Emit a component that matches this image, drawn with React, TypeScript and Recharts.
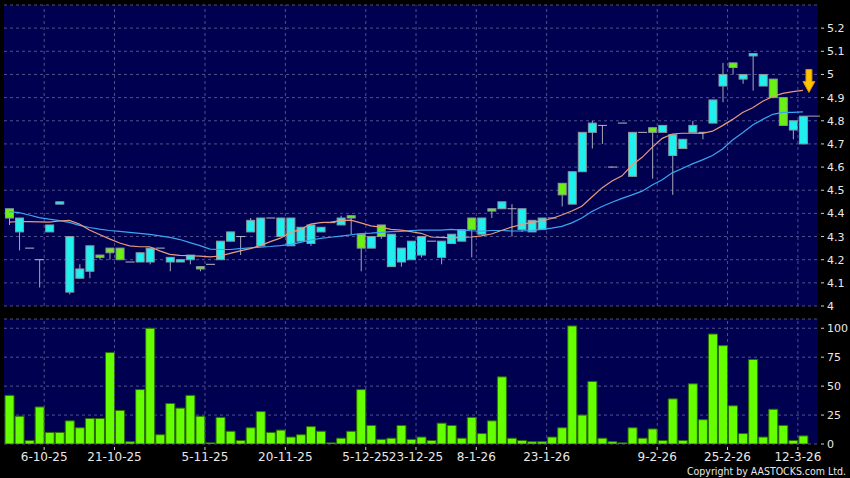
import React from "react";
import {
    ComposedChart, Bar, Line, XAxis, YAxis, CartesianGrid, ReferenceLine, ReferenceDot
} from "recharts";

// daily candles, oldest first
const open = [
    4.42, 4.32, 4.25, 4.20, 4.32, 4.44, 4.06, 4.12, 4.15, 4.22,
    4.25, 4.25, 4.19, 4.19, 4.19, 4.25, 4.19, 4.19, 4.20, 4.17,
    4.18, 4.20, 4.28, 4.30, 4.32, 4.26, 4.38, 4.30, 4.26, 4.28,
    4.27, 4.32, 4.36, 4.35, 4.39, 4.31, 4.25, 4.35, 4.17, 4.19,
    4.20, 4.22, 4.28, 4.21, 4.27, 4.28, 4.38, 4.31, 4.42, 4.42,
    4.42, 4.33, 4.32, 4.33, 4.38, 4.53, 4.44, 4.58, 4.75, 4.78,
    4.60, 4.79, 4.56, 4.75, 4.77, 4.75, 4.65, 4.68, 4.75, 4.75,
    4.79, 4.95, 5.05, 4.98, 5.08, 4.95, 4.98, 4.90, 4.76, 4.70,
];
const high = [
    4.42, 4.38, 4.25, 4.20, 4.35, 4.45, 4.30, 4.18, 4.26, 4.22,
    4.25, 4.25, 4.19, 4.23, 4.25, 4.25, 4.21, 4.20, 4.22, 4.17,
    4.18, 4.28, 4.32, 4.30, 4.38, 4.38, 4.38, 4.38, 4.38, 4.34,
    4.35, 4.34, 4.36, 4.39, 4.39, 4.31, 4.30, 4.35, 4.31, 4.25,
    4.28, 4.30, 4.28, 4.28, 4.31, 4.33, 4.38, 4.38, 4.42, 4.45,
    4.44, 4.42, 4.37, 4.38, 4.38, 4.53, 4.58, 4.75, 4.80, 4.78,
    4.60, 4.79, 4.75, 4.75, 4.77, 4.78, 4.74, 4.72, 4.80, 4.75,
    4.89, 5.05, 5.05, 5.00, 5.09, 5.00, 4.98, 4.90, 4.80, 4.82,
];
const low = [
    4.35, 4.24, 4.25, 4.08, 4.32, 4.44, 4.05, 4.12, 4.12, 4.20,
    4.20, 4.20, 4.19, 4.19, 4.18, 4.25, 4.15, 4.19, 4.18, 4.15,
    4.18, 4.20, 4.28, 4.22, 4.32, 4.26, 4.38, 4.30, 4.26, 4.28,
    4.26, 4.32, 4.36, 4.35, 4.31, 4.15, 4.25, 4.29, 4.17, 4.17,
    4.20, 4.21, 4.28, 4.18, 4.27, 4.28, 4.21, 4.31, 4.38, 4.42,
    4.30, 4.32, 4.32, 4.33, 4.38, 4.43, 4.44, 4.58, 4.68, 4.70,
    4.60, 4.79, 4.56, 4.75, 4.55, 4.75, 4.48, 4.68, 4.75, 4.72,
    4.79, 4.88, 5.00, 4.96, 4.93, 4.95, 4.90, 4.78, 4.72, 4.70,
];
const close = [
    4.38, 4.38, 4.25, 4.20, 4.35, 4.45, 4.30, 4.16, 4.26, 4.21,
    4.23, 4.20, 4.19, 4.23, 4.25, 4.25, 4.21, 4.20, 4.22, 4.16,
    4.18, 4.28, 4.32, 4.30, 4.37, 4.38, 4.38, 4.38, 4.38, 4.34,
    4.35, 4.34, 4.36, 4.38, 4.38, 4.25, 4.30, 4.30, 4.31, 4.25,
    4.28, 4.30, 4.28, 4.28, 4.31, 4.33, 4.33, 4.38, 4.41, 4.45,
    4.42, 4.42, 4.37, 4.38, 4.38, 4.48, 4.58, 4.75, 4.79, 4.78,
    4.60, 4.79, 4.75, 4.75, 4.75, 4.78, 4.74, 4.72, 4.78, 4.75,
    4.89, 5.00, 5.03, 5.00, 5.09, 5.00, 4.90, 4.78, 4.80, 4.82,
];
const volume = [
    42, 24, 3, 32, 10, 10, 20, 14, 22, 22,
    79, 29, 2, 47, 100, 8, 35, 31, 42, 24,
    1, 23, 11, 3, 14, 28, 10, 12, 6, 8,
    15, 11, 1, 5, 11, 47, 16, 4, 5, 16,
    4, 6, 3, 18, 16, 5, 23, 9, 20, 58,
    5, 3, 2, 2, 6, 14, 102, 25, 54, 5,
    2, 1, 14, 5, 13, 3, 39, 3, 52, 21,
    95, 85, 33, 9, 73, 6, 30, 16, 3, 7,
];
const ma10 = [
    4.362, 4.365, 4.364, 4.363, 4.362, 4.367, 4.370, 4.354, 4.328, 4.309,
    4.290, 4.272, 4.260, 4.256, 4.256, 4.238, 4.223, 4.219, 4.217, 4.215,
    4.212, 4.216, 4.227, 4.238, 4.248, 4.261, 4.278, 4.293, 4.318, 4.330,
    4.354, 4.360, 4.362, 4.369, 4.371, 4.359, 4.346, 4.341, 4.331, 4.328,
    4.321, 4.314, 4.298, 4.296, 4.294, 4.296, 4.298, 4.303, 4.311, 4.326,
    4.341, 4.352, 4.361, 4.367, 4.378, 4.393, 4.410, 4.431, 4.471, 4.510,
    4.540, 4.562, 4.609, 4.642, 4.685, 4.724, 4.743, 4.746, 4.746, 4.745,
    4.755, 4.779, 4.806, 4.836, 4.856, 4.884, 4.905, 4.918, 4.926, 4.931,
];
const ma20 = [
    4.408, 4.403, 4.393, 4.382, 4.375, 4.369, 4.361, 4.348, 4.339, 4.332,
    4.326, 4.322, 4.318, 4.314, 4.309, 4.303, 4.296, 4.287, 4.274, 4.261,
    4.246, 4.244, 4.244, 4.248, 4.251, 4.254, 4.257, 4.261, 4.266, 4.275,
    4.285, 4.292, 4.297, 4.302, 4.307, 4.313, 4.315, 4.318, 4.321, 4.322,
    4.326, 4.328, 4.328, 4.328, 4.331, 4.328, 4.325, 4.323, 4.326, 4.326,
    4.324, 4.324, 4.326, 4.331, 4.336, 4.344, 4.359, 4.380, 4.408, 4.430,
    4.448, 4.465, 4.480, 4.496, 4.523, 4.545, 4.575, 4.594, 4.614, 4.631,
    4.650, 4.678, 4.717, 4.748, 4.782, 4.806, 4.828, 4.836, 4.836, 4.838,
];

// x labels sit on the gridline after these candles
const tickIdx = [3, 10, 19, 27, 35, 40, 46, 53, 64, 71, 78];
const tickLabels = ["6-10-25", "21-10-25", "5-11-25", "20-11-25", "5-12-25", "23-12-25", "8-1-26", "23-1-26", "9-2-26", "25-2-26", "12-3-26"];
const priceTicks = [4, 4.1, 4.2, 4.3, 4.4, 4.5, 4.6, 4.7, 4.8, 4.9, 5, 5.1, 5.2];
const volTicks = [0, 25, 50, 75, 100];

const BG = "#000050";
const GRID = "#50508a";
const UP = "#1ef0f0";
const DOWN = "#6af012";

const rows: any[] = open.map((o, i) => ({
    i, o, h: high[i], l: low[i], c: close[i], v: volume[i], ma10: ma10[i], ma20: ma20[i],
    hl: [low[i], high[i]],
}));
rows.push({ i: rows.length }); // blank slot on the right
const lastIdx = open.length - 1;

const Candle = (props: any) => {
    const { x, y, width, height, payload } = props;
    if (!payload || payload.h == null) return null;
    const { o, h, l, c } = payload;
    const top = Math.min(y, y + height);
    const hh = Math.abs(height);
    const span = h - l;
    const py = (v: number) => (span > 0 ? top + ((h - v) / span) * hh : top);
    const cx = x + width / 2;
    const yo = py(o), yc = py(c);
    return (
        <g>
            {span > 0 && <line x1={cx} x2={cx} y1={py(h)} y2={py(l)} stroke="#a8a8b8" />}
            {o === c ? (
                <line x1={x} x2={x + width} y1={yo} y2={yo} stroke="#b8b8c0" />
            ) : (
                <rect x={x + 0.5} y={Math.min(yo, yc)} width={width - 1} height={Math.max(1, Math.abs(yo - yc))}
                    fill={c > o ? UP : DOWN} stroke="#8c98a0" />
            )}
            {payload.i === lastIdx && <line x1={x + width} x2={x + width + 12} y1={yc} y2={yc} stroke="#a8a8b8" />}
        </g>
    );
};

const Arrow = (props: any) => {
    const { cx, cy } = props;
    const tx = cx + 6, ty = cy + 2;
    return (
        <g>
            <path d={`M${tx - 3},${ty - 23} L${tx + 3},${ty - 23} L${tx + 3},${ty - 11} L${tx + 6},${ty - 11} L${tx},${ty} L${tx - 6},${ty - 11} L${tx - 3},${ty - 11} Z`}
                fill="#ffc400" stroke="#e08a00" strokeWidth={1} />
        </g>
    );
};

const fmt = (v: number) => String(Math.round(v * 10) / 10);

const RightTick = (props: any) => {
    const { x, y, payload } = props;
    return (
        <g>
            <line x1={x + 3} x2={x + 6} y1={y} y2={y} stroke="#d0d0d0" />
            <text x={x + 9} y={y + 4} fill="#e8e8e8" fontSize={11} fontFamily="DejaVu Sans">{fmt(payload.value)}</text>
        </g>
    );
};

const DateTick = (props: any) => {
    const { x, y, payload } = props;
    const k = tickIdx.indexOf(payload.value);
    if (k < 0) return <g />;
    return (
        <g>
            <line x1={x + 5} x2={x + 5} y1={y + 3} y2={y + 6} stroke="#d0d0d0" />
            <text x={x + 5} y={y + 17} textAnchor="middle" fill="#e8e8e8" fontSize={12} fontFamily="DejaVu Sans">{tickLabels[k]}</text>
        </g>
    );
};

const App: React.FC = () => {
    return (
        <div style={{ position: "absolute", left: 0, top: 0, width: 850, height: 478, background: "#000", overflow: "hidden" }}>
            <div style={{ position: "absolute", left: 0, top: 0 }}>
                <ComposedChart width={850} height={310} data={rows} margin={{ top: 5, right: 0, bottom: 4, left: 4 }}>
                    <CartesianGrid vertical={false} stroke={GRID} strokeDasharray="3 3" fill={BG} fillOpacity={1} />
                    <XAxis dataKey="i" hide />
                    <YAxis orientation="right" domain={[4, 5.3]} ticks={priceTicks} interval={0} allowDataOverflow width={32}
                        axisLine={false} tickLine={false} tickSize={0} tickMargin={0} tick={<RightTick />} />
                    {tickIdx.map(t => (
                        <ReferenceLine key={t} x={t} position="end" stroke={GRID} strokeDasharray="3 3" />
                    ))}
                    <Line dataKey="ma20" type="linear" stroke="#3aa6f0" strokeWidth={1.2} dot={false} isAnimationActive={false} />
                    <Line dataKey="ma10" type="linear" stroke="#e89a7c" strokeWidth={1.2} dot={false} isAnimationActive={false} />
                    <Bar dataKey="hl" barSize={9} shape={<Candle />} isAnimationActive={false} />
                    <ReferenceDot x={lastIdx} y={ma10[lastIdx]} r={0} shape={<Arrow />} />
                </ComposedChart>
            </div>
            <div style={{ position: "absolute", left: 0, top: 310 }}>
                <ComposedChart width={850} height={168} data={rows} margin={{ top: 9, right: 0, bottom: 0, left: 4 }}>
                    <CartesianGrid vertical={false} stroke={GRID} strokeDasharray="3 3" fill={BG} fillOpacity={1} />
                    <XAxis dataKey="i" height={34} interval={0} axisLine={false} tickLine={false} tickSize={0} tickMargin={0} tick={<DateTick />} />
                    <YAxis orientation="right" domain={[0, 108]} ticks={volTicks} interval={0} allowDataOverflow width={32}
                        axisLine={false} tickLine={false} tickSize={0} tickMargin={0} tick={<RightTick />} />
                    {tickIdx.map(t => (
                        <ReferenceLine key={t} x={t} position="end" stroke={GRID} strokeDasharray="3 3" />
                    ))}
                    <Bar dataKey="v" barSize={9} fill="#66ff00" stroke="#2c6e00" isAnimationActive={false} />
                </ComposedChart>
            </div>
            <svg width={850} height={478} style={{ position: "absolute", left: 0, top: 0, pointerEvents: "none" }}>
                <text x={846} y={475} textAnchor="end" fill="#e8e8e8" fontSize={11} fontFamily="DejaVu Sans"
                    textLength={159} lengthAdjust="spacingAndGlyphs">Copyright by AASTOCKS.com Ltd.</text>
            </svg>
        </div>
    );
};

export default App;
